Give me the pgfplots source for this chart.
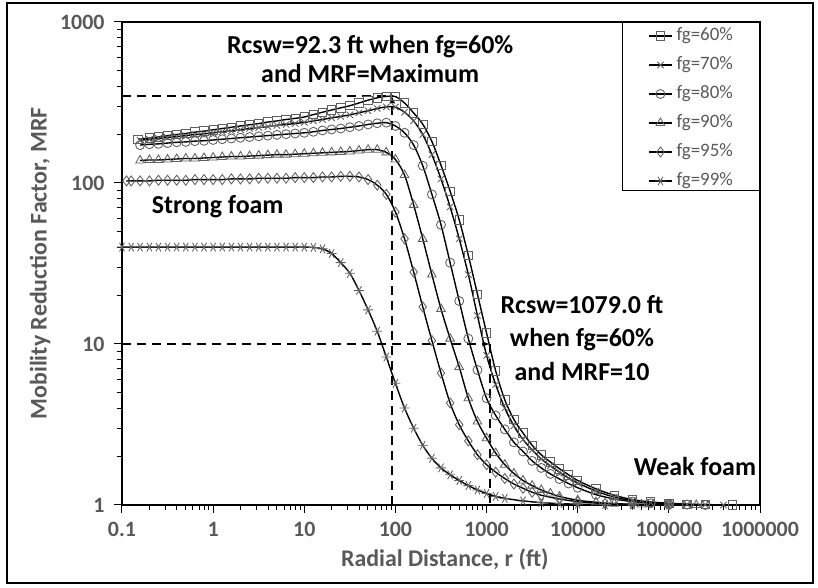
\documentclass[border=0pt]{standalone}
\usepackage{pgfplots}
\pgfplotsset{compat=1.18}
\usepackage{fontspec}
\setmainfont{Carlito}
\usetikzlibrary{arrows.meta}
\definecolor{txtgray}{HTML}{595959}
\definecolor{mkgray}{HTML}{606060}

\pgfplotsset{
  mrf/.style={black, line width=1.4bp, smooth,
    mark size=4.5bp,
    mark options={draw=mkgray, solid, line width=0.85bp, fill=none}},
}

\begin{document}
\begin{tikzpicture}
\useasboundingbox (0bp,0bp) rectangle (818bp,588bp);
\draw[line width=2bp] (7bp,5bp) rectangle (813bp,585bp);
\begin{axis}[
  at={(122bp,83bp)}, anchor=south west,
  scale only axis, width=638bp, height=483bp,
  xmode=log, ymode=log,
  xmin=0.1, xmax=1000000, ymin=1, ymax=1000,
  axis line style={line width=1.2bp},
  tick align=outside, tick pos=left,
  major tick length=8bp, minor tick length=5bp,
  every tick/.style={black, line width=1bp},
  xtick={0.1,1,10,100,1000,10000,100000,1000000},
  xticklabels={0.1,1,10,100,1000,10000,100000,1000000},
  minor xtick={0.2,0.3,0.4,0.5,0.6,0.7,0.8,0.9,
    2,3,4,5,6,7,8,9,20,30,40,50,60,70,80,90,
    200,300,400,500,600,700,800,900,
    2000,3000,4000,5000,6000,7000,8000,9000,
    20000,30000,40000,50000,60000,70000,80000,90000,
    200000,300000,400000,500000,600000,700000,800000,900000},
  ytick={1,10,100,1000},
  yticklabels={1,10,100,1000},
  minor ytick={2,3,4,5,6,7,8,9,20,30,40,50,60,70,80,90,
    200,300,400,500,600,700,800,900},
  ticklabel style={font=\fontsize{22}{24}\selectfont\bfseries, text=txtgray},
  xticklabel style={yshift=-6bp},
  yticklabel style={xshift=-6bp},
  xlabel={Radial Distance, r (ft)},
  ylabel={Mobility Reduction Factor, MRF},
  every axis x label/.style={at={(axis description cs:0.506,-0.112)}, anchor=center,
    font=\fontsize{24}{26}\selectfont\bfseries, text=txtgray},
  every axis y label/.style={at={(axis description cs:-0.1285,0.5)}, anchor=center, rotate=90,
    font=\fontsize{24}{26}\selectfont\bfseries, text=txtgray},
  legend cell align=left,
  legend style={at={(axis description cs:0.8245,0.99)}, anchor=north west,
    draw=none, fill=none, inner sep=0pt,
    font=\fontsize{19}{21}\selectfont, text=txtgray,
    nodes={inner sep=0pt, text height=13bp, text depth=5bp},
    row sep=11bp, column sep=4bp},
  legend image code/.code={%
    \draw[mark repeat=2, mark phase=2, #1] plot coordinates {(0bp,0bp) (11.5bp,0bp) (23bp,0bp)};},
  clip=false,
]

% fg = 60 %
\addplot[mrf, mark=square, mark size=4.2bp] table {
0.15 187
0.2 190
0.251 193
0.316 197
0.398 200
0.501 203
0.631 207
0.794 210
1 214
1.259 218
1.585 222
1.995 226
2.512 230
3.162 234
3.981 239
5.012 243
6.31 248
7.943 252
10 257
12.59 266
15.85 275
19.95 284
25.12 293
31.62 302
39.81 314
50.12 327
63.1 338
79.43 345
100 344
125.9 314
158.5 272
199.5 232
251.2 181
316.2 129
398.1 89
501.2 59
631 35.5
794.3 20.4
1000 11.7
1259 6.8
1585 4.5
1995 3.4
2512 2.8
3162 2.35
3981 2.05
5012 1.85
6310 1.68
7943 1.54
10000 1.42
15849 1.26
25119 1.15
39811 1.08
63096 1.045
100000 1.025
158489 1.012
251189 1.006
501187 1.0
};
\addlegendentry{fg=60\%}

% fg = 70 %
\addplot[mrf, mark=x] table {
0.158 184
0.2 187
0.251 189
0.316 192
0.398 194
0.501 197
0.631 200
0.794 202
1 205
1.259 208
1.585 211
1.995 214
2.512 218
3.162 221
3.981 224
5.012 228
6.31 231
7.943 234
10 238
12.59 243
15.85 248
19.95 254
25.12 259
31.62 265
39.81 273
50.12 281
63.1 290
79.43 297
100 296
125.9 275
158.5 243
199.5 200
251.2 150
316.2 106
398.1 71
501.2 45
631 27
794.3 15
1000 8.5
1259 5.6
1585 4.0
1995 3.1
2512 2.55
3162 2.2
3981 1.93
5012 1.75
6310 1.6
7943 1.47
10000 1.37
15849 1.22
25119 1.12
39811 1.065
63096 1.035
100000 1.018
158489 1.009
251189 1.004
398107 1.0
};
\addlegendentry{fg=70\%}

% fg = 80 %
\addplot[mrf, mark=o] table {
0.158 172
0.2 174
0.251 175
0.316 177
0.398 179
0.501 180
0.631 182
0.794 183
1 185
1.259 187
1.585 189
1.995 191
2.512 193
3.162 195
3.981 197
5.012 199
6.31 201
7.943 203
10 205
12.59 208
15.85 212
19.95 215
25.12 218
31.62 222
39.81 226
50.12 231
63.1 235
79.43 237
100 226
125.9 205
158.5 172
199.5 128
251.2 85
316.2 55
398.1 32
501.2 18.5
631 10.8
794.3 6.9
1000 4.6
1259 3.6
1585 2.95
1995 2.45
2512 2.15
3162 1.88
3981 1.7
5012 1.56
6310 1.45
7943 1.36
10000 1.28
15849 1.16
25119 1.09
39811 1.05
63096 1.025
100000 1.012
158489 1.006
251189 1.0
};
\addlegendentry{fg=80\%}

% fg = 90 %
\addplot[mrf, mark=triangle, mark size=5bp] table {
0.158 138
0.2 139
0.251 139
0.316 140
0.398 141
0.501 142
0.631 142
0.794 143
1 144
1.259 145
1.585 146
1.995 146
2.512 147
3.162 148
3.981 149
5.012 150
6.31 150
7.943 151
10 152
12.59 153
15.85 154
19.95 155
25.12 156
31.62 157
39.81 159
50.12 161
63.1 161
79.43 155
100 140
125.9 112
158.5 73
199.5 45
251.2 27
316.2 16.5
398.1 10.8
501.2 7.2
631 4.6
794.3 3.3
1000 2.6
1259 2.1
1585 1.78
1995 1.57
2512 1.42
3162 1.32
3981 1.24
5012 1.18
6310 1.13
10000 1.07
15849 1.04
25119 1.02
50119 1.008
100000 1.003
199526 1.0
};
\addlegendentry{fg=90\%}

% fg = 95 %
\addplot[mrf, mark=diamond, mark size=5bp] table {
0.112 103
0.126 103
0.158 103
0.2 103
0.251 104
0.316 104
0.398 104
0.501 104
0.631 105
0.794 105
1 105
1.259 105
1.585 106
1.995 106
2.512 106
3.162 107
3.981 107
5.012 107
6.31 107
7.943 108
10 108
12.59 108
15.85 109
19.95 109
25.12 110
31.62 110
39.81 109
50.12 105
63.1 97
79.43 85
100 66
125.9 45
158.5 28
199.5 17
251.2 10.5
316.2 6.6
398.1 4.3
501.2 3.15
631 2.5
794.3 2.05
1000 1.78
1259 1.6
1585 1.46
1995 1.35
2512 1.27
3162 1.2
3981 1.15
6310 1.09
10000 1.05
19953 1.02
39811 1.008
100000 1.0
};
\addlegendentry{fg=95\%}

% fg = 99 %
\addplot[mrf, mark=asterisk, mark size=5bp,
  mark options={draw=mkgray, solid, line width=0.85bp, rotate=90}] table {
0.1 40
0.126 40
0.158 40
0.2 40
0.251 40
0.316 40
0.398 40
0.501 40
0.631 40
0.794 40
1 40
1.259 40
1.585 40
1.995 40
2.512 40
3.162 40
3.981 40
5.012 40
6.31 40
7.943 40
10 40
12.59 39.8
15.85 39
19.95 36.5
25.12 32
31.62 27.5
39.81 21.5
50.12 16.3
63.1 12
79.43 8.3
100 5.7
125.9 4.0
158.5 3.0
199.5 2.35
251.2 1.95
316.2 1.7
398.1 1.54
501.2 1.42
631 1.32
794.3 1.24
1000 1.18
1259 1.13
1585 1.1
2512 1.06
3981 1.035
6310 1.02
10000 1.012
19953 1.005
39811 1.002
100000 1.0
};
\addlegendentry{fg=99\%}

% guide lines for fg = 60 %
\addplot[black, line width=2bp, dash pattern=on 9bp off 6bp, forget plot]
  coordinates {(0.1,345) (92.3,345)};
\addplot[black, line width=2bp, dash pattern=on 9bp off 6bp, forget plot,
  -{Latex[length=7bp,width=6bp]}]
  coordinates {(92.3,1) (92.3,345)};
\addplot[black, line width=2bp, dash pattern=on 9bp off 6bp, forget plot,
  -{Latex[length=7bp,width=6bp]}]
  coordinates {(0.1,10) (1079,10)};
\addplot[black, line width=2bp, dash pattern=on 9bp off 6bp, forget plot]
  coordinates {(1079,10) (1079,1)};

% legend frame
\draw[black, line width=1bp] (axis description cs:0.7837,0.6501) rectangle (axis description cs:1,1);

% annotations
\node[font=\fontsize{26}{29}\selectfont\bfseries, align=center, anchor=center]
  at (axis description cs:0.389,0.924) {Rcsw=92.3 ft when fg=60\%\\and MRF=Maximum};
\node[font=\fontsize{26}{28}\selectfont\bfseries, anchor=center]
  at (axis description cs:0.150,0.617) {Strong foam};
\node[font=\fontsize{26}{33.5}\selectfont\bfseries, align=center, anchor=center]
  at (axis description cs:0.721,0.346) {Rcsw=1079.0 ft\\when fg=60\%\\and MRF=10};
\node[font=\fontsize{26}{28}\selectfont\bfseries, anchor=center]
  at (axis description cs:0.898,0.079) {Weak foam};
\end{axis}
\end{tikzpicture}
\end{document}
